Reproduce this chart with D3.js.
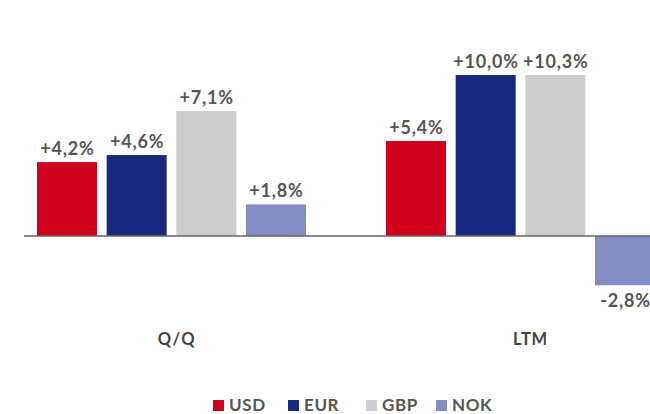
<!DOCTYPE html>
<html>
<head>
<meta charset="utf-8">
<script src="https://cdn.jsdelivr.net/npm/d3@7/dist/d3.min.js"></script>
<style>
  html, body { margin: 0; padding: 0; background: #fff; }
  svg { display: block; }
  text { font-family: "Lato", sans-serif; }
</style>
</head>
<body>
<svg id="chart" width="650" height="414"></svg>
<script>
const categories = ["Q/Q", "LTM"];
const seriesNames = ["USD", "EUR", "GBP", "NOK"];
const seriesColors = ["#d0021b", "#18287e", "#cccccc", "#838dc3"];
const usdValues = [4.2, 5.4];
const eurValues = [4.6, 10.0];
const gbpValues = [7.1, 10.3];
const nokValues = [1.8, -2.8];
const valueLabels = [
  ["+4,2%", "+4,6%", "+7,1%", "+1,8%"],
  ["+5,4%", "+10,0%", "+10,3%", "-2,8%"]
];

const seriesValues = [usdValues, eurValues, gbpValues, nokValues];
const data = categories.map((c, ci) => ({
  cat: c,
  bars: seriesNames.map((s, si) => ({ s, si, v: seriesValues[si][ci], label: valueLabels[ci][si] }))
}));

const svg = d3.select("#chart");

const x0 = d3.scaleBand().domain(categories).range([20, 718]);
const x1 = d3.scaleBand().domain(seriesNames).range([0, 269]).paddingInner(0.139).paddingOuter(0);
const innerOffset = 17;
const y = d3.scaleLinear().domain([-3, 9.15]).range([288.8, 75]).clamp(true);
const color = d3.scaleOrdinal().domain(seriesNames).range(seriesColors);

const groups = svg.selectAll("g.grp").data(data).join("g")
  .attr("class", "grp")
  .attr("transform", d => `translate(${x0(d.cat) + innerOffset},0)`);

groups.selectAll("rect").data(d => d.bars).join("rect")
  .attr("x", d => x1(d.s))
  .attr("width", x1.bandwidth())
  .attr("y", d => Math.min(y(d.v), y(0)))
  .attr("height", d => Math.abs(y(d.v) - y(0)))
  .attr("fill", d => color(d.s));

groups.selectAll("text.val").data(d => d.bars).join("text")
  .attr("class", "val")
  .attr("x", d => x1(d.s) + x1.bandwidth() / 2 + 0.4)
  .attr("y", d => d.v >= 0 ? y(d.v) - 7 : y(d.v) + 22)
  .attr("text-anchor", "middle")
  .attr("font-size", 18)
  .attr("font-weight", 700)
  .attr("letter-spacing", 0.8)
  .attr("fill", "#555")
  .text(d => d.label);

// zero axis line
svg.append("line")
  .attr("x1", 24).attr("x2", 650)
  .attr("y1", y(0)).attr("y2", y(0))
  .attr("stroke", "#666").attr("stroke-width", 1.5);

// category labels
svg.selectAll("text.cat").data(categories).join("text")
  .attr("class", "cat")
  .attr("x", d => x0(d) + innerOffset + 134.5 + (d === "Q/Q" ? 5.5 : 10))
  .attr("y", 345)
  .attr("text-anchor", "middle")
  .attr("font-size", 16.5)
  .attr("font-weight", 700)
  .attr("letter-spacing", d => d === "Q/Q" ? 1.5 : 0.8)
  .attr("fill", "#444")
  .text(d => d);

// legend
const legendX = [213, 288, 366, 436];
const leg = svg.selectAll("g.leg").data(seriesNames).join("g")
  .attr("class", "leg")
  .attr("transform", (d, i) => `translate(${legendX[i]},0)`);
leg.append("rect")
  .attr("x", 0).attr("y", 400).attr("width", 11).attr("height", 11)
  .attr("fill", d => color(d));
leg.append("text")
  .attr("x", 16).attr("y", 411)
  .attr("font-size", 17)
  .attr("font-weight", 700)
  .attr("letter-spacing", 0.6)
  .attr("fill", "#555")
  .text(d => d);
</script>
</body>
</html>
